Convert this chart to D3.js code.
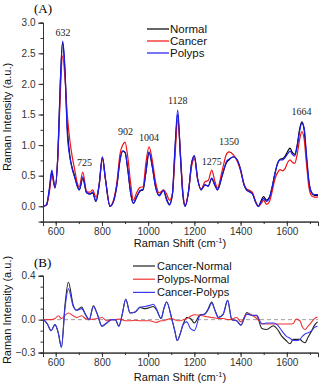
<!DOCTYPE html>
<html><head><meta charset="utf-8">
<script src="https://cdn.jsdelivr.net/npm/d3@7"></script>
<style>body{margin:0;background:#fff}svg{display:block}</style>
</head><body>
<script>
// ---------- Panel A data ----------
const shiftA = [545,560,572,583,597,610,620,630,640,650,662,672,683,692,702,717,734,748,760,774,788,802,815,835,850,865,878,890,900,912,925,936,950,965,978,990,1004,1018,1032,1048,1066,1080,1092,1105,1116,1128,1140,1150,1160,1175,1188,1200,1214,1229,1246,1260,1275,1288,1300,1320,1340,1350,1369,1385,1400,1415,1427,1440,1452,1465,1477,1490,1499,1512,1525,1537,1549,1560,1571,1582,1593,1604,1614,1624,1634,1645,1655,1665,1675,1685,1697,1708,1720,1735];
const normal = [0,0.02,0.25,0.55,0.32,0.9,2.0,2.68,2.2,1.3,0.80,0.62,0.48,0.35,0.27,0.45,0.22,0.20,0.22,0.08,0.35,0.80,0.45,0.0,0.08,0.35,0.75,0.90,0.88,0.6,0.2,0.05,0.15,0.25,0.27,0.55,0.88,0.65,0.32,0.18,0.26,0.12,0.03,0.2,0.9,1.50,0.8,0.2,0.0,0.25,0.7,0.82,0.45,0.27,0.35,0.33,0.45,0.35,0.27,0.50,0.72,0.76,0.81,0.76,0.6,0.35,0.26,0.24,0.2,0.07,0.0,0.1,0.16,0.10,0.15,0.32,0.54,0.70,0.77,0.78,0.82,0.90,0.95,0.88,0.85,1.0,1.25,1.38,1.25,0.8,0.35,0.22,0.18,0.18];
const cancer = [0,0.02,0.22,0.50,0.30,0.85,1.85,2.46,2.1,1.5,1.05,0.80,0.58,0.40,0.32,0.56,0.24,0.23,0.27,0.15,0.35,0.78,0.45,0.0,0.1,0.4,0.85,1.0,1.05,0.8,0.35,0.1,0.22,0.31,0.32,0.7,0.97,0.75,0.40,0.22,0.27,0.20,0.10,0.2,0.8,1.41,0.85,0.25,0.02,0.25,0.65,0.78,0.45,0.28,0.40,0.42,0.59,0.42,0.30,0.58,0.86,0.89,0.84,0.74,0.58,0.36,0.28,0.26,0.22,0.08,0.0,0.05,0.10,0.03,0.08,0.25,0.45,0.55,0.60,0.58,0.62,0.72,0.76,0.72,0.70,0.85,1.08,1.22,1.10,0.7,0.28,0.17,0.15,0.15];
const polyps = [0,0.02,0.28,0.59,0.30,0.9,2.05,2.70,2.25,1.2,0.79,0.60,0.46,0.34,0.27,0.48,0.22,0.20,0.23,0.08,0.35,0.81,0.45,0.0,0.08,0.35,0.75,0.90,0.88,0.6,0.2,0.05,0.15,0.26,0.28,0.55,0.89,0.65,0.32,0.17,0.26,0.1,0.02,0.2,0.95,1.57,0.8,0.2,0.0,0.25,0.7,0.83,0.45,0.27,0.35,0.33,0.46,0.36,0.27,0.50,0.74,0.77,0.81,0.76,0.6,0.35,0.27,0.23,0.2,0.07,0.0,0.08,0.13,0.08,0.14,0.32,0.54,0.70,0.76,0.76,0.80,0.86,0.90,0.85,0.82,0.98,1.22,1.36,1.28,0.85,0.38,0.22,0.19,0.19];
const seriesA = ["Normal","Cancer","Polyps"];
const peakPos = [632,725,902,1004,1128,1275,1350,1664];
const peakLabelVal = [2.78,0.66,1.16,1.07,1.67,0.68,1.00,1.50];

// ---------- Panel B data ----------
const shiftB = [548,564,580,597,611,625,640,655,676,691,712,728,745,763,780,800,821,842,858,873,888,903,922,944,965,987,1008,1022,1036,1056,1068,1080,1102,1115,1126,1140,1152,1167,1183,1200,1225,1245,1260,1275,1290,1304,1325,1344,1362,1383,1401,1427,1449,1470,1492,1513,1542,1560,1578,1597,1614,1628,1640,1657,1668,1679,1692,1708,1720,1733];
const cancerNormal = [0,-0.04,-0.10,-0.045,-0.12,-0.25,0.13,0.34,0.13,0.085,0.115,0.05,0.0,0.125,0.05,-0.06,-0.03,0.0,0.0,-0.06,0.05,0.185,0.06,0.07,0.11,0.10,0.11,0.12,0.09,0.01,0.10,0.16,0.01,-0.10,-0.19,-0.12,-0.04,0.02,0.01,-0.03,0.045,0.05,0.10,0.16,0.08,0.02,0.05,0.175,0.0,-0.01,-0.05,0.065,0.04,0.035,-0.08,-0.09,-0.055,-0.09,-0.15,-0.19,-0.22,-0.18,-0.18,-0.18,-0.20,-0.21,-0.16,-0.10,-0.05,-0.02];
const polypsNormal = [0,0,0.0,0.01,0.035,0.01,0.04,0.06,0.035,0.02,0.035,0.01,0.0,0.005,0.01,0.02,-0.01,0.0,0.0,0.005,0.0,-0.01,-0.01,-0.005,-0.01,-0.01,-0.01,-0.02,-0.025,-0.01,-0.01,0.0,0.01,0.0,-0.01,-0.01,0.0,0.01,0.03,0.045,0.04,0.03,0.025,0.02,0.015,0.01,0.01,0.0,0.005,0.02,-0.02,0.05,0.04,0.01,-0.035,-0.04,-0.04,-0.04,-0.04,-0.04,-0.04,-0.035,0.005,-0.01,-0.07,-0.09,-0.06,-0.02,0.01,0.025];
const cancerPolyps = [0,-0.04,-0.10,-0.045,-0.12,-0.25,0.10,0.28,0.12,0.085,0.10,0.05,0.0,0.12,0.05,-0.06,-0.03,0.0,0.0,-0.06,0.05,0.185,0.06,0.07,0.115,0.12,0.13,0.14,0.10,0.01,0.10,0.16,0.01,-0.10,-0.19,-0.12,-0.04,-0.02,-0.08,-0.10,0.04,0.05,0.09,0.15,0.08,0.02,0.05,0.175,0.0,-0.01,-0.05,0.05,0.04,0.04,-0.04,-0.03,-0.03,-0.05,-0.10,-0.15,-0.17,-0.19,-0.19,-0.18,-0.15,-0.13,-0.12,-0.10,-0.07,-0.06];
const seriesB = ["Cancer-Normal","Polyps-Normal","Cancer-Polyps"];

const xTicks = [600,800,1000,1200,1400,1600];
const xMinor = [600,700,800,900,1000,1100,1200,1300,1400,1500,1600,1700];
const yTicksA = [0,0.5,1.0,1.5,2.0,2.5,3.0];
const yMinorA = [-0.25,0,0.25,0.5,0.75,1.0,1.25,1.5,1.75,2.0,2.25,2.5,2.75,3.0];
const yTicksB = [0.4,0.0,-0.3];
const yMinorB = [-0.3,-0.2,-0.1,0,0.1,0.2,0.3,0.4];

const W = 322, H = 388;
const svg = d3.select("body").append("svg").attr("width",W).attr("height",H)
  .style("font-family","Arial, 'Liberation Sans', sans-serif");

const x = d3.scaleLinear().domain([545,1735]).range([43,318]);
const yA = d3.scaleLinear().domain([-0.25,3.0]).range([221.6,22.7]);
const yB = d3.scaleLinear().domain([-0.3,0.4]).range([352.6,275.7]);

function drawAxes(y, yMaj, yMin, fmt, yBottom){
  const g = svg.append("g");
  // x axis
  const gx = g.append("g").attr("transform",`translate(0,${y.range()[0]})`);
  gx.call(d3.axisBottom(x).tickValues(xMinor).tickSize(2.5).tickFormat(""));
  gx.append("g").call(d3.axisBottom(x).tickValues(xTicks).tickSize(4.5).tickFormat(d3.format("d")));
  gx.selectAll(".domain").attr("stroke","#333").attr("stroke-width",1);
  gx.selectAll("line").attr("stroke","#333");
  gx.selectAll("text").attr("font-size",10).attr("fill","#333").attr("font-family","Arial, 'Liberation Sans', sans-serif").attr("dy","0.6em");
  // y axis
  const gy = g.append("g").attr("transform",`translate(${x.range()[0]},0)`);
  gy.call(d3.axisLeft(y).tickValues(yMin).tickSize(2.5).tickFormat(""));
  gy.append("g").call(d3.axisLeft(y).tickValues(yMaj).tickSize(4.5).tickFormat(fmt));
  gy.selectAll(".domain").attr("stroke","#333").attr("stroke-width",1);
  gy.selectAll("line").attr("stroke","#333");
  gy.selectAll("text").attr("font-size",10).attr("fill","#333").attr("font-family","Arial, 'Liberation Sans', sans-serif");
}

drawAxes(yA, yTicksA, yMinorA, d3.format(".1f"));
drawAxes(yB, yTicksB, yMinorB, d3.format(".1f"));

// zero dashed line panel B
svg.append("line").attr("x1",x.range()[0]).attr("x2",x.range()[1])
  .attr("y1",yB(0)).attr("y2",yB(0)).attr("stroke","#888").attr("stroke-width",0.8).attr("stroke-dasharray","4,3");

const lineA = d3.line().x((d,i)=>x(shiftA[i])).y(d=>yA(d)).curve(d3.curveMonotoneX);
const lineB = d3.line().x((d,i)=>x(shiftB[i])).y(d=>yB(d)).curve(d3.curveMonotoneX);

const colA = ["#000000","#ee1111","#1a1aee"];
[normal,cancer,polyps].forEach((s,k)=>{
  svg.append("path").attr("d",lineA(s)).attr("fill","none").attr("stroke",colA[k]).attr("stroke-width",1.2);
});
const colB = ["#222222","#ee3333","#3a3aee"];
[cancerNormal,polypsNormal,cancerPolyps].forEach((s,k)=>{
  svg.append("path").attr("d",lineB(s)).attr("fill","none").attr("stroke",colB[k]).attr("stroke-width",1.1);
});

// peak labels
peakPos.forEach((p,i)=>{
  svg.append("text").attr("x",x(p)).attr("y",yA(peakLabelVal[i])).attr("text-anchor","middle")
    .attr("font-family","'Liberation Serif','DejaVu Serif',serif").attr("font-size",10).attr("fill","#222").text(p);
});

// legends
seriesA.forEach((s,i)=>{
  const yy = 29 + i*12;
  svg.append("line").attr("x1",147).attr("x2",169).attr("y1",yy).attr("y2",yy).attr("stroke",colA[i]).attr("stroke-width",1.2);
  svg.append("text").attr("x",170).attr("y",yy).attr("dy","0.35em").attr("font-size",11.5).attr("fill","#111").text(s);
});
seriesB.forEach((s,i)=>{
  const yy = 266 + i*13.2;
  svg.append("line").attr("x1",133).attr("x2",155).attr("y1",yy).attr("y2",yy).attr("stroke",colB[i]).attr("stroke-width",1.2);
  svg.append("text").attr("x",157).attr("y",yy).attr("dy","0.35em").attr("font-size",11).attr("fill","#111").text(s);
});

// panel labels
svg.append("text").attr("x",34).attr("y",13).attr("font-family","'Liberation Serif',serif").attr("font-size",13).text("(A)");
svg.append("text").attr("x",34).attr("y",267).attr("font-family","'Liberation Serif',serif").attr("font-size",13).text("(B)");

// axis titles
function xTitle(yy){
  const t = svg.append("text").attr("x",180).attr("y",yy).attr("text-anchor","middle").attr("font-size",11).attr("fill","#111");
  t.append("tspan").text("Raman Shift (cm");
  t.append("tspan").attr("dy",-4).attr("font-size",7.5).text("-1");
  t.append("tspan").attr("dy",4).text(")");
}
xTitle(247); xTitle(381);
svg.append("text").attr("transform","translate(11,117) rotate(-90)").attr("text-anchor","middle").attr("font-size",11).attr("fill","#111").text("Raman Intensity (a.u.)");
svg.append("text").attr("transform","translate(11,310) rotate(-90)").attr("text-anchor","middle").attr("font-size",11).attr("fill","#111").text("Raman Intensity (a.u.)");
</script>
</body></html>
